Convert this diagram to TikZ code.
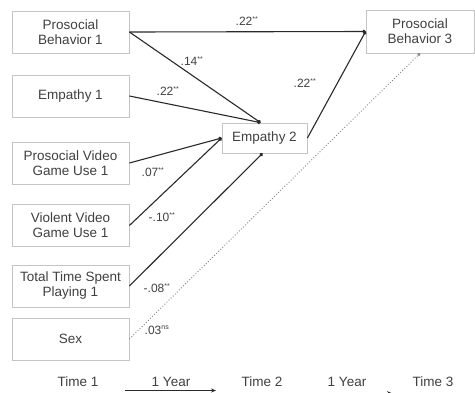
\documentclass[tikz,border=0pt]{standalone}
\usepackage{fontspec}
\setmainfont{Liberation Sans}
\usetikzlibrary{arrows.meta}
\definecolor{txt}{HTML}{404040}
\definecolor{bord}{HTML}{C4C4C4}
\definecolor{ln}{HTML}{2A2A2A}
\newcommand{\sig}[1]{\textsuperscript{\fontsize{7}{7}\selectfont #1}}
\tikzset{
  box/.style={draw=bord, line width=0.8pt, fill=white, text=txt, align=center,
    minimum width=117pt, minimum height=42pt, inner sep=0pt,
    font=\fontsize{13.5}{15}\selectfont},
  path/.style={draw=ln, line width=1.1pt, -{Circle[length=3.5pt]}},
  dotpath/.style={draw=gray, line width=0.9pt, dotted, -{Circle[length=3pt]}},
  coef/.style={text=txt, inner sep=0pt, font=\fontsize{12}{12}\selectfont},
  timelab/.style={text=txt, inner sep=0pt, font=\fontsize{13.5}{15}\selectfont},
  yeararrow/.style={draw=ln, line width=1pt, -{Stealth[length=5pt,width=4pt]}}
}
\begin{document}
\begin{tikzpicture}[x=1pt,y=-1pt]
\useasboundingbox[fill=white] (0,0) rectangle (475,392);
\node[box] (pb1) at (70.5,32) {Prosocial\\Behavior 1};
\node[box] (emp1) at (70.5,96) {Empathy 1};
\node[box] (pvg) at (70.5,163) {Prosocial Video\\Game Use 1};
\node[box] (vvg) at (70.5,225.5) {Violent Video\\Game Use 1};
\node[box] (tts) at (70.5,286) {Total Time Spent\\Playing 1};
\node[box] (sex) at (70.5,339) {Sex};
\node[box, minimum width=85pt, minimum height=30pt] (emp2) at (264.5,138) {Empathy 2};
\node[box, minimum width=108pt, minimum height=43pt] (pb3) at (420,31.5) {Prosocial\\Behavior 3};

\draw[path] (pb1.east) -- (pb3.west);
\draw[path] (pb1.east) -- ([xshift=-4pt]emp2.north);
\draw[path] (emp1.east) -- ([xshift=-4pt]emp2.north);
\draw[path] (pvg.east) -- (emp2.west);
\draw[path] (vvg.east) -- (emp2.west);
\draw[path] (tts.east) -- ([xshift=-2pt]emp2.south);
\draw[path] (emp2.east) -- (pb3.west);
\draw[dotpath] (sex.east) -- (pb3.south);

\node[coef] (c1) at (247,21) {.22\sig{**}};
\node[coef] (c2) at (192,61) {.14\sig{**}};
\node[coef] (c3) at (168,91) {.22\sig{**}};
\node[coef] (c4) at (305,83) {.22\sig{**}};
\node[coef] (c5) at (153,172) {.07\sig{**}};
\node[coef] (c6) at (162,217) {-.10\sig{**}};
\node[coef] (c7) at (157,288) {-.08\sig{**}};
\node[coef] (c8) at (157,330) {.03\sig{ns}};

\node[timelab] (t1) at (78,382) {Time 1};
\node[timelab] (y1) at (171,382) {1 Year};
\node[timelab] (t2) at (262,382) {Time 2};
\node[timelab] (y2) at (347,382) {1 Year};
\node[timelab] (t3) at (433,382) {Time 3};
\coordinate (a1s) at (125,390.5);
\coordinate (a1e) at (216,390.5);
\coordinate (a2s) at (302,393.2);
\coordinate (a2e) at (392,393.2);
\draw[yeararrow] (a1s) -- (a1e);
\draw[yeararrow] (a2s) -- (a2e);
\end{tikzpicture}
\end{document}
